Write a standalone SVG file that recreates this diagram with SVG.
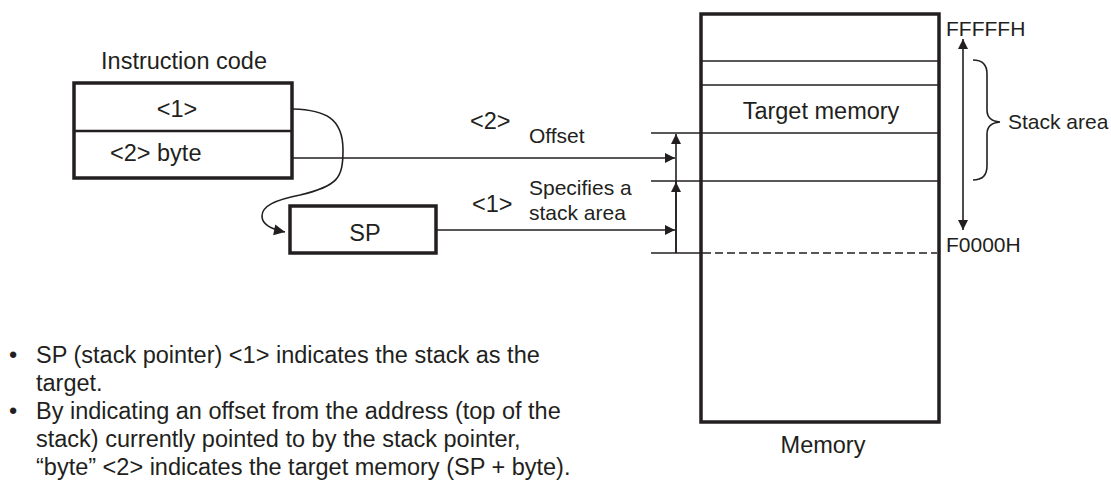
<svg xmlns="http://www.w3.org/2000/svg" width="1111" height="482" viewBox="0 0 1111 482">
<defs>
<style>
text{font-family:"Liberation Sans",Arial,Helvetica,sans-serif;fill:#231f20}
.big{font-size:23.5px}
.mid{font-size:21px}
.box{fill:#fff;stroke:#231f20;stroke-width:3.5}
.div{stroke:#231f20;stroke-width:2.6;fill:none}
.thin{stroke:#231f20;stroke-width:1.6;fill:none}
.dash{stroke:#231f20;stroke-width:1.6;stroke-dasharray:8 4;fill:none}
.conn{stroke:#231f20;stroke-width:1.6;fill:none}
</style>
<marker id="arr" viewBox="0 0 10 10" refX="10" refY="5" markerWidth="11" markerHeight="10" markerUnits="userSpaceOnUse" orient="auto-start-reverse">
<path d="M0,0 L10,5 L0,10 z" fill="#231f20"/>
</marker>
<marker id="arrc" viewBox="0 0 10 10" refX="10" refY="5" markerWidth="13" markerHeight="11" markerUnits="userSpaceOnUse" orient="auto">
<path d="M0,0 L10,5 L0,10 z" fill="#231f20"/>
</marker>
</defs>
<rect width="1111" height="482" fill="#fff"/>

<g id="instruction-code">
<text class="big" x="184" y="69" text-anchor="middle">Instruction code</text>
<rect class="box" x="74" y="83" width="218" height="95"/>
<line class="div" x1="74" y1="131" x2="292" y2="131"/>
<text class="big" x="177" y="117" text-anchor="middle">&lt;1&gt;</text>
<text class="big" x="110" y="161">&lt;2&gt; byte</text>
</g>

<g id="sp">
<rect class="box" x="290" y="206" width="146" height="47"/>
<text class="big" x="365" y="241" text-anchor="middle">SP</text>
</g>

<g id="memory">
<rect class="box" x="701" y="14" width="238" height="408"/>
<line class="thin" x1="701" y1="61" x2="939" y2="61"/>
<line class="thin" x1="701" y1="85" x2="939" y2="85"/>
<line class="thin" x1="651" y1="133" x2="939" y2="133"/>
<line class="thin" x1="651" y1="181" x2="939" y2="181"/>
<line class="thin" x1="651" y1="253" x2="703" y2="253"/>
<line class="dash" x1="703" y1="253" x2="937" y2="253"/>
<text class="big" x="821" y="119" text-anchor="middle">Target memory</text>
<text class="big" x="823" y="453" text-anchor="middle">Memory</text>
</g>

<g id="stack-range">
<text class="mid" x="946" y="36">FFFFFH</text>
<text class="mid" x="946" y="252">F0000H</text>
<path class="thin" d="M973,60 Q987,60 987,74 L987,110 Q987,121 1000,122 Q987,123 987,134 L987,166 Q987,180 973,180"/>
<text class="mid" x="1008" y="129">Stack area</text>
</g>

<g id="labels">
<text class="big" x="470" y="129">&lt;2&gt;</text>
<text class="mid" x="529" y="143">Offset</text>
<text class="mid" x="529" y="195">Specifies a</text>
<text class="mid" x="529" y="220">stack area</text>
<text class="big" x="472" y="212">&lt;1&gt;</text>
</g>

<g id="connectors">
<path class="conn" d="M293,109 C325,110 343,118 343,150 C343,178 338,186 300,195 C275,200 262,206 262,216 C262,224 270,229 285,232" marker-end="url(#arrc)"/>
<line class="conn" x1="292" y1="158" x2="675" y2="158" marker-end="url(#arr)"/>
<line class="conn" x1="436" y1="230" x2="675" y2="230" marker-end="url(#arr)"/>
<line class="conn" x1="676" y1="253" x2="676" y2="134" marker-end="url(#arr)"/>
<line class="conn" x1="676" y1="253" x2="676" y2="182" marker-end="url(#arr)"/>
<line class="conn" x1="963" y1="39" x2="963" y2="230" marker-start="url(#arr)" marker-end="url(#arr)"/>
</g>

<g id="notes">
<text class="big" x="9" y="363">•</text>
<text class="big" x="36" y="363">SP (stack pointer) &lt;1&gt; indicates the stack as the</text>
<text class="big" x="36" y="391">target.</text>
<text class="big" x="9" y="419">•</text>
<text class="big" x="36" y="419">By indicating an offset from the address (top of the</text>
<text class="big" x="36" y="447">stack) currently pointed to by the stack pointer,</text>
<text class="big" x="36" y="475">“byte” &lt;2&gt; indicates the target memory (SP + byte).</text>
</g>
</svg>
